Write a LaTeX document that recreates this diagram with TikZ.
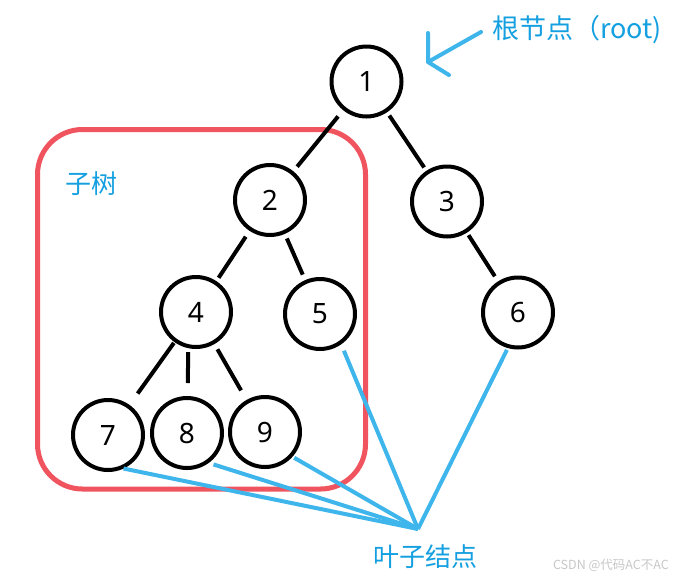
\documentclass[tikz,border=0pt]{standalone}
\usepackage{fontspec}
\setmainfont{Noto Sans}
\newfontfamily\cjk{Noto Sans CJK SC}
\begin{document}
\begin{tikzpicture}[x=1pt,y=-1pt,
  tnode/.style={circle,draw=black,line width=4pt,minimum size=70pt,inner sep=0pt,font=\fontsize{28}{30}\selectfont},
  tedge/.style={draw=black,line width=4pt},
  leafline/.style={draw=lblue,line width=4pt},
  note/.style={text=tblue,font=\cjk\fontsize{26}{28}\selectfont,inner sep=0pt}]
\definecolor{lblue}{RGB}{62,182,236}
\definecolor{tblue}{RGB}{20,160,224}
\definecolor{boxred}{RGB}{240,84,94}
\definecolor{wgray}{RGB}{200,200,200}
\useasboundingbox (0,0) rectangle (674,579);
\fill[white] (0,0) rectangle (674,579);

% subtree box
\draw[boxred,line width=5pt,rounded corners=45pt] (37.5,129.5) rectangle (365.5,489);

% nodes
\node[tnode] (n1) at (366.5,81.5) {1};
\node[tnode] (n2) at (270,200) {2};
\node[tnode] (n3) at (447,201.5) {3};
\node[tnode] (n4) at (196,312) {4};
\node[tnode] (n5) at (320,314) {5};
\node[tnode] (n6) at (518,312.5) {6};
\node[tnode] (n7) at (108,435) {7};
\node[tnode] (n8) at (187,433) {8};
\node[tnode] (n9) at (265,432) {9};

% tree edges
\draw[tedge,shorten <=8pt,shorten >=6pt] (n1) -- (n2);
\draw[tedge,shorten <=4pt,shorten >=4pt] (n1) -- (n3);
\draw[tedge,shorten <=7pt,shorten >=4pt] (n2) -- (n4);
\draw[tedge,shorten <=5pt,shorten >=6pt] (n2) -- (n5);
\draw[tedge,shorten <=3pt,shorten >=6pt] (n3) -- (n6);
\draw[tedge,shorten <=1pt,shorten >=14pt] (n4) -- (n7);
\draw[tedge,shorten <=4pt,shorten >=13pt] (n4.-102) -- (n8);
\draw[tedge,shorten <=6pt,shorten >=11pt] (n4) -- (n9);

% leaves
\coordinate (leaf) at (418,529);
\draw[leafline] (n7.-65) -- (leaf);
\draw[leafline,shorten <=5pt] (n8.-54) -- (leaf);
\draw[leafline,shorten <=2pt] (n9.-42) -- (leaf);
\draw[leafline,shorten <=7pt] (n5.-55) -- (leaf);
\draw[leafline,shorten <=2pt] (n6.-106) -- (leaf);

% root arrow
\coordinate (tip) at (428,62);
\draw[leafline,line cap=round,line join=round] (428,33) -- (tip) -- (449,75);
\draw[leafline,line cap=round] (tip) -- (481,32);

% labels
\node[note,anchor=west,font=\cjk\fontsize{27}{29}\selectfont] (rootlbl) at (492,30) {根节点（root)};
\node[note] (sublbl) at (91,184) {子树};
\node[note] (leaflbl) at (425.5,557) {叶子结点};
\node[text=wgray,font=\cjk\fontsize{12.5}{14}\selectfont,inner sep=0pt,anchor=east] (wm) at (669,565) {CSDN @代码AC不AC};
\end{tikzpicture}
\end{document}
